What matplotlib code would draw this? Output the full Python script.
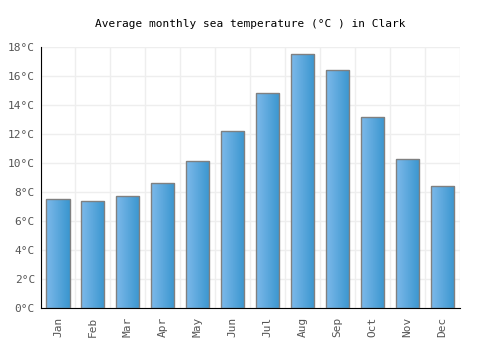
import numpy as np
import matplotlib.pyplot as plt
from matplotlib.colors import LinearSegmentedColormap

months = ['Jan', 'Feb', 'Mar', 'Apr', 'May', 'Jun', 'Jul', 'Aug', 'Sep', 'Oct', 'Nov', 'Dec']
temps = [7.5, 7.4, 7.7, 8.6, 10.1, 12.2, 14.8, 17.5, 16.4, 13.2, 10.3, 8.4]
yticks = [0, 2, 4, 6, 8, 10, 12, 14, 16, 18]

plt.rcParams['font.family'] = 'DejaVu Sans Mono'
fig = plt.figure(figsize=(5, 3.5), dpi=100)
ax = fig.add_axes([0.081, 0.12, 0.839, 0.746])

x = np.arange(len(months))
bw = 0.66
bars = ax.bar(x, temps, width=bw, facecolor='none', edgecolor='#808080', linewidth=1, zorder=3)

# horizontal gradient inside each bar
cmap = LinearSegmentedColormap.from_list('g', ['#7db9ea', '#3a96cf'])
grad = np.linspace(0, 1, 64).reshape(1, -1)
for b in bars:
    x0, w, h = b.get_x(), b.get_width(), b.get_height()
    im = ax.imshow(grad, cmap=cmap, aspect='auto', extent=[x0, x0 + w, 0, h], zorder=2)
    im.set_clip_path(b)

ax.set_xlim(-0.5, 11.5)
ax.set_ylim(0, 18)
ax.set_xticks(x)
ax.set_xticklabels(months, rotation=90)
ax.set_xticks(np.arange(-0.5, 12, 1), minor=True)
ax.set_yticks(yticks)
ax.set_yticklabels(['%d°C' % t for t in yticks])
ax.tick_params(axis='both', which='both', length=0, labelsize=8, labelcolor='#555555')
ax.tick_params(axis='x', pad=6)
ax.tick_params(axis='y', pad=4)
ax.grid(True, axis='y', color='#eeeeee', linewidth=1, zorder=0)
ax.grid(True, axis='x', which='minor', color='#eeeeee', linewidth=1, zorder=0)
ax.grid(False, axis='x', which='major')
ax.set_axisbelow(True)
for s in ['top', 'right']:
    ax.spines[s].set_visible(False)
ax.spines['left'].set_color('black')
ax.spines['bottom'].set_color('black')

fig.suptitle('Average monthly sea temperature (°C ) in Clark', y=0.931, va='center', fontsize=8)
fig.savefig('out.png', dpi=100)
